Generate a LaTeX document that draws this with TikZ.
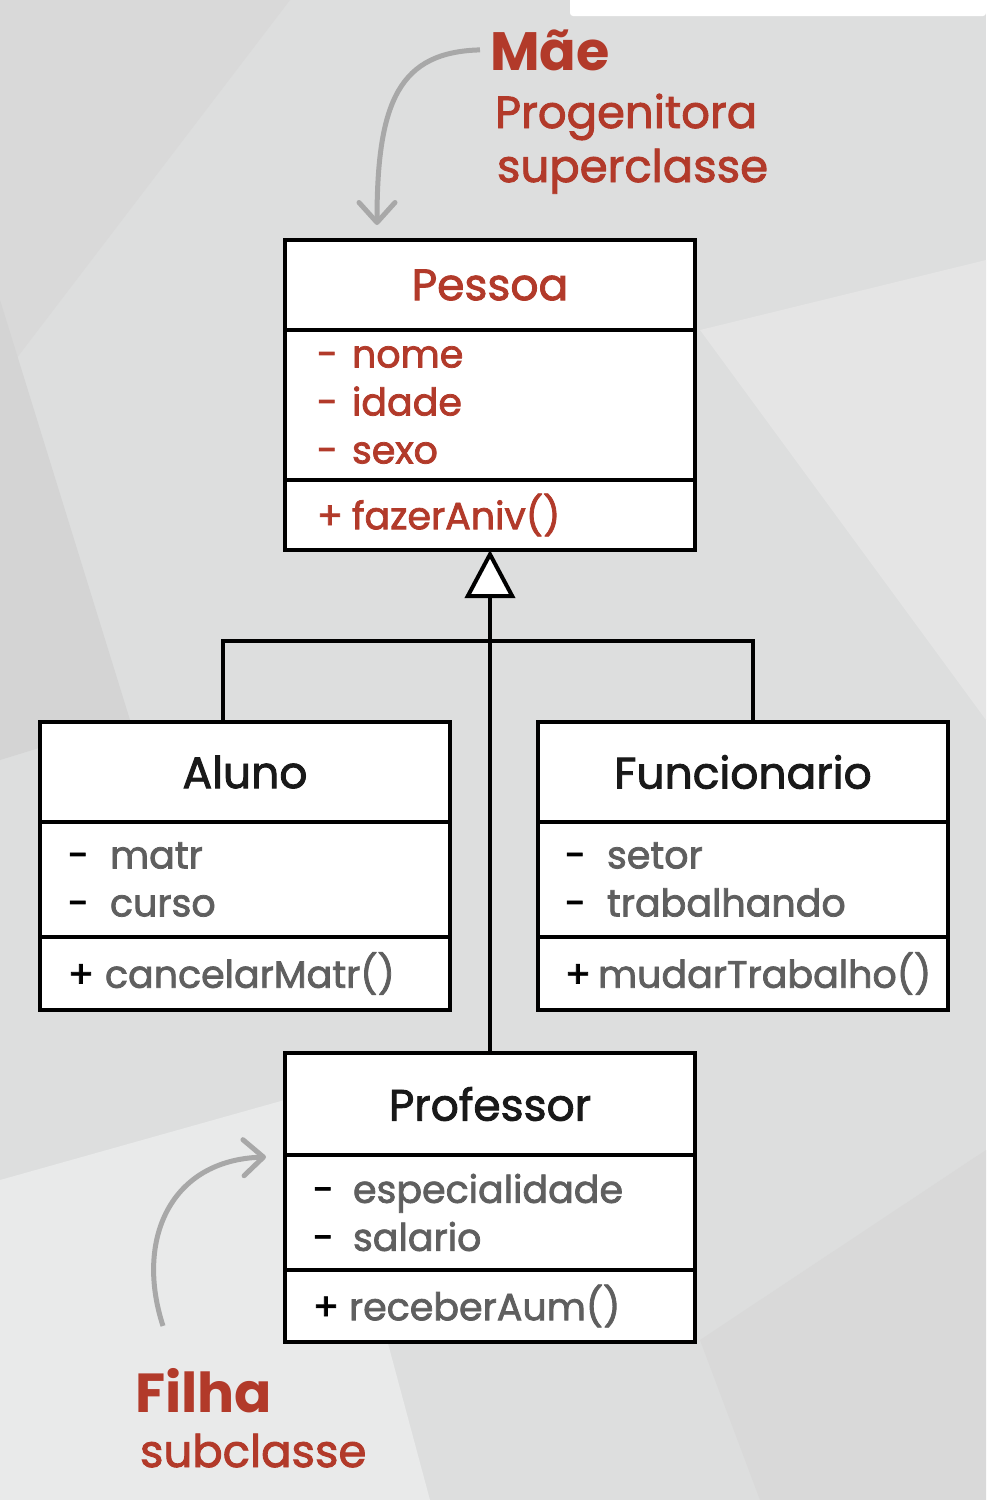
\documentclass[tikz,border=0pt]{standalone}
\usepackage{fontspec}
\setmainfont{Poppins}[UprightFeatures={FakeBold=2}]
\usetikzlibrary{positioning,arrows.meta,calc}
\definecolor{umlred}{RGB}{178,58,42}
\definecolor{attrgray}{RGB}{95,95,95}
\definecolor{bggray}{RGB}{221,222,222}
\definecolor{arrowgray}{RGB}{168,168,168}
\newcommand\umlsign[2][40pt]{\makebox[#1][l]{#2}}

\begin{document}
\begin{tikzpicture}[x=1pt,y=-1pt,line width=4pt,
  titlebox/.style={draw,fill=white,outer sep=0pt,inner sep=0pt,minimum width=410pt,minimum height=#1,
    text=black!90,font=\fontsize{44}{48}\selectfont},
  attrbox/.style={draw,fill=white,outer sep=0pt,inner xsep=28pt,inner ysep=0pt,minimum width=410pt,minimum height=#1,
    text width=354pt,align=left,text=attrgray,font=\fontsize{38}{48}\selectfont},
  note/.style={anchor=base west,inner sep=0pt,text=umlred,font=\fontsize{45}{50}\selectfont},
  bignote/.style={anchor=base west,inner sep=0pt,text=umlred,font=\fontsize{55}{60}\selectfont\bfseries},
  hint/.style={draw=arrowgray,line width=5pt,-{Straight Barb[length=20pt,width=36pt,round]}}]
  \useasboundingbox (0,0) rectangle (986,1500);

  % Background
  \fill[bggray] (0,0) rectangle (986,1500);
  \fill[black!15] (0,0) -- (290,0) -- (0,380) -- cycle;
  \fill[black!17] (0,300) -- (130,720) -- (0,760) -- cycle;
  \fill[white!35!bggray] (0,1180) -- (320,1090) -- (430,1500) -- (0,1500) -- cycle;
  \fill[black!10] (700,330) -- (986,260) -- (986,720) -- cycle;
  \fill[black!15] (700,1340) -- (986,1150) -- (986,1500) -- (760,1500) -- cycle;
  \fill[white,rounded corners=3pt] (570,-10) rectangle (986,16);

  % Pessoa
  \node[titlebox=90pt,text=umlred] (pessoaT) at (490,285) {Pessoa};
  \node[attrbox=150pt,text=umlred,inner xsep=32pt,text width=346pt,below=0pt of pessoaT] (pessoaA)
    {\umlsign[35pt]{-}nome\\\umlsign[35pt]{-}idade\\\umlsign[35pt]{-}sexo};
  \node[attrbox=70pt,text=umlred,inner xsep=32pt,text width=346pt,below=0pt of pessoaA] (pessoaM)
    {\umlsign[35pt]{+}fazerAniv()};

  % Aluno
  \node[titlebox=100pt] (alunoT) at (245,772) {Aluno};
  \node[attrbox=115pt,below=0pt of alunoT] (alunoA)
    {\umlsign[42pt]{\color{black}-}matr\\\umlsign[42pt]{\color{black}-}curso};
  \node[attrbox=73pt,below=0pt of alunoA] (alunoM)
    {\umlsign[37pt]{\color{black}+}cancelarMatr()};

  % Funcionario
  \node[titlebox=100pt] (funcT) at (743,772) {Funcionario};
  \node[attrbox=115pt,inner xsep=27pt,text width=356pt,below=0pt of funcT] (funcA)
    {\umlsign[42pt]{\color{black}-}setor\\\umlsign[42pt]{\color{black}-}trabalhando};
  \node[attrbox=73pt,inner xsep=27pt,text width=356pt,below=0pt of funcA] (funcM)
    {\umlsign[33pt]{\color{black}+}mudarTrabalho()};

  % Professor
  \node[titlebox=102pt] (profT) at (490,1104) {Professor};
  \node[attrbox=115pt,below=0pt of profT] (profA)
    {\umlsign[40pt]{\color{black}-}especialidade\\\umlsign[40pt]{\color{black}-}salario};
  \node[attrbox=72pt,below=0pt of profA] (profM)
    {\umlsign[36pt]{\color{black}+}receberAum()};

  % Inheritance
  \draw[-{Triangle[fill=white,length=48pt,width=50pt]}] (profT.north) -- (pessoaM.south);
  \draw ([xshift=-22pt]alunoT.north) -- ++(0,-81) -| ([xshift=10pt]funcT.north);

  % Labels
  \node[bignote,font=\fontsize{54}{60}\selectfont\bfseries] (mae) at (488,70) {Mãe};
  \node[note] (progenitora) at (493,128) {Progenitora};
  \node[note] (superclasse) at (495,182) {superclasse};
  \node[bignote] (filha) at (133,1412) {Filha};
  \node[note] (subclasse) at (138,1467) {subclasse};

  % Hint arrows
  \coordinate (maeTip) at ($(pessoaT.north west)+(92,-15)$);
  \coordinate (filhaTail) at ($(filha.north west)+(30,-40)$);
  \coordinate (filhaTip) at ($(profA.north west)+(-19,2)$);
  \draw[hint] ([xshift=-8pt]mae.west) .. controls (400,52) and (377,100) .. (maeTip);
  \draw[hint] (filhaTail) .. controls (135,1240) and (170,1160) .. (filhaTip);
\end{tikzpicture}
\end{document}
